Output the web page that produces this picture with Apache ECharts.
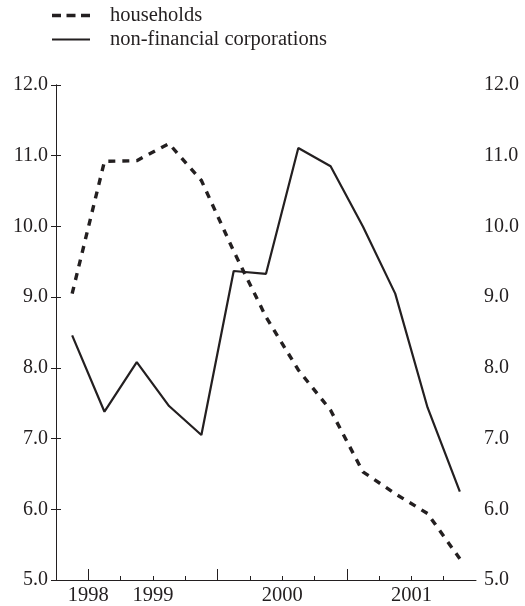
<!DOCTYPE html>
<html>
<head>
<meta charset="utf-8">
<script src="https://cdn.jsdelivr.net/npm/echarts@6/dist/echarts.min.js"></script>
<style>
html,body{margin:0;padding:0;background:#fff;}
#chart{width:525px;height:606px;}
</style>
</head>
<body>
<div id="chart"></div>
<script>
// Quarterly observations (1997Q4 .. 2000Q4)
const quarters = ['1997Q4','1998Q1','1998Q2','1998Q3','1998Q4','1999Q1','1999Q2','1999Q3','1999Q4','2000Q1','2000Q2','2000Q3','2000Q4'];
const households = [9.05, 10.92, 10.93, 11.17, 10.65, 9.65, 8.72, 7.97, 7.40, 6.53, 6.22, 5.94, 5.30];
const corporations = [8.46, 7.38, 8.08, 7.46, 7.05, 9.37, 9.33, 11.11, 10.85, 10.00, 9.05, 7.44, 6.25];
const seriesNames = ['households', 'non-financial corporations'];
// x-axis year labels placed on quarter boundaries
const yearLabelPos = [1, 3, 7, 11];
const yearLabels = ['1998', '1999', '2000', '2001'];
const majorTickPos = [1, 5, 9];
const minorTickPos = [2, 3, 4, 6, 7, 8, 10, 11, 12];
const yMin = 5, yMax = 12, yStep = 1;

const ink = '#231f20';
const font = 'Liberation Serif';
const dashIcon = 'path://M0,0h9v3.5H0z M14.5,0h9v3.5h-9z M29,0h9v3.5h-9z';
const solidIcon = 'path://M0,0h38v2H0z';

const chart = echarts.init(document.getElementById('chart'), null, {renderer: 'canvas'});

const yAxisBase = (pos) => ({
  type: 'value', position: pos, min: yMin, max: yMax, interval: yStep,
  axisLine: {show: true, lineStyle: {color: ink, width: 1}},
  axisTick: {show: true, inside: true, length: 5, lineStyle: {color: ink}},
  axisLabel: {color: ink, fontFamily: font, fontSize: 20, margin: 8,
    formatter: v => v.toFixed(1)},
  splitLine: {show: false}
});

const option = {
  animation: false,
  backgroundColor: '#fff',
  textStyle: {fontFamily: font},
  grid: {left: 56, right: 49, top: 85, bottom: 24, containLabel: false},
  legend: {
    orient: 'vertical', left: 47, top: 0, itemGap: 3,
    itemWidth: 38, itemHeight: 14, symbolKeepAspect: true,
    textStyle: {color: ink, fontFamily: font, fontSize: 20.5, padding: [0, 0, 0, 15]},
    data: [
      {name: seriesNames[0], icon: dashIcon},
      {name: seriesNames[1], icon: solidIcon}
    ]
  },
  xAxis: [
    {
      type: 'value', position: 'bottom', min: 0, max: quarters.length,
      axisLine: {show: true, lineStyle: {color: ink, width: 1}},
      axisTick: {show: true, inside: true, length: 4, customValues: minorTickPos, lineStyle: {color: ink}},
      axisLabel: {show: true, color: ink, fontFamily: font, fontSize: 20.5, margin: 5,
        customValues: yearLabelPos,
        formatter: v => yearLabels[yearLabelPos.indexOf(Math.round(v))] || ''},
      splitLine: {show: false}
    },
    {
      type: 'value', position: 'bottom', min: 0, max: quarters.length,
      axisLine: {show: false},
      axisTick: {show: true, inside: true, length: 11, customValues: majorTickPos, lineStyle: {color: ink}},
      axisLabel: {show: false},
      splitLine: {show: false}
    }
  ],
  yAxis: [yAxisBase('left'), yAxisBase('right')],
  series: [
    {
      name: seriesNames[0], type: 'line', xAxisIndex: 0, yAxisIndex: 0,
      symbol: 'none', silent: true,
      lineStyle: {color: ink, width: 3.4, type: [7, 7]},
      itemStyle: {color: ink},
      data: households.map((v, i) => [i + 0.5, v])
    },
    {
      name: seriesNames[1], type: 'line', xAxisIndex: 0, yAxisIndex: 0,
      symbol: 'none', silent: true,
      lineStyle: {color: ink, width: 2.2},
      itemStyle: {color: ink},
      data: corporations.map((v, i) => [i + 0.5, v])
    }
  ]
};
chart.setOption(option);
</script>
</body>
</html>
